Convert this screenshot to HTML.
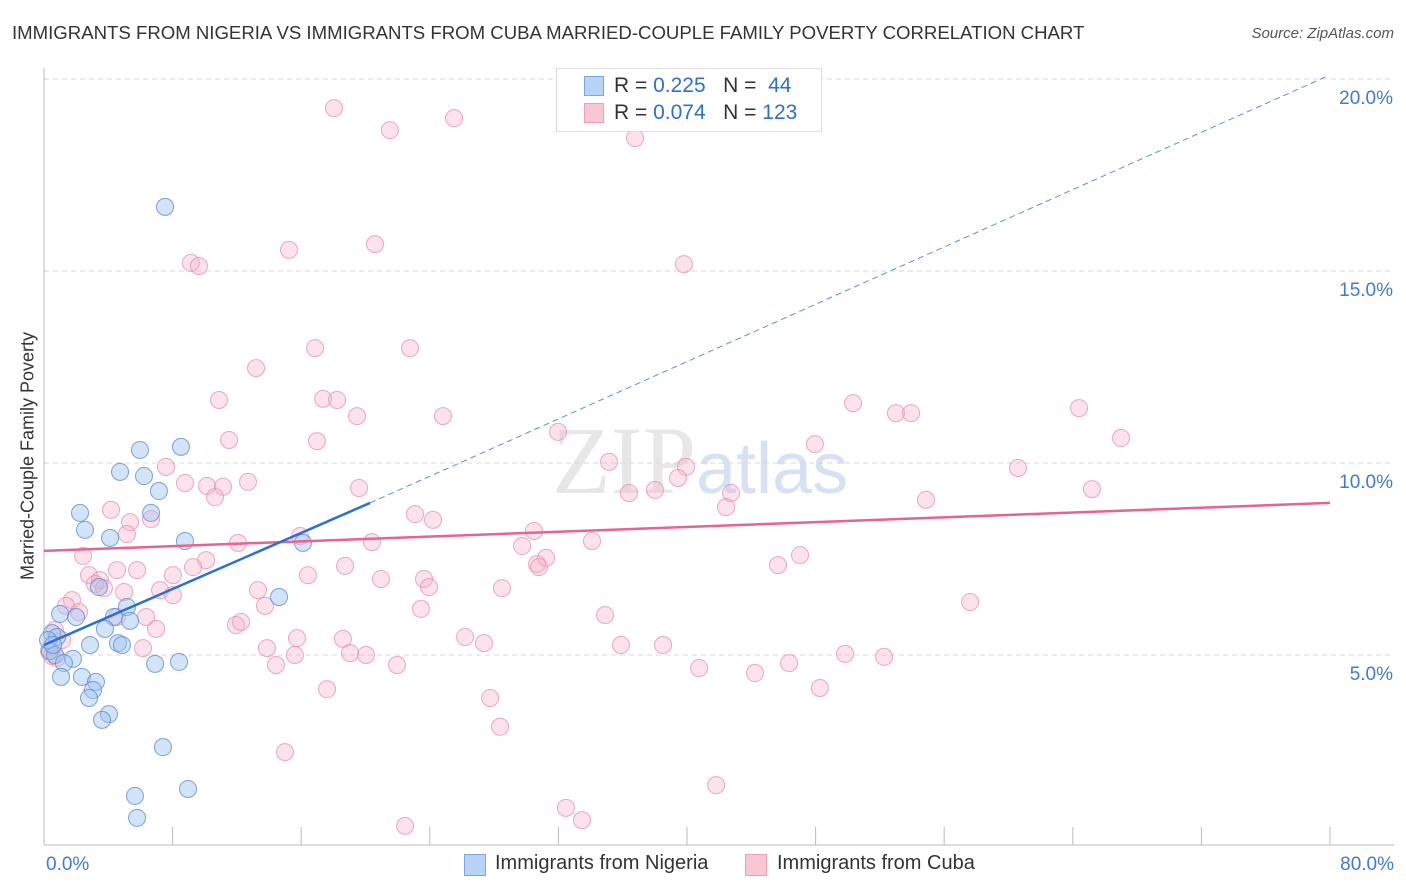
<!DOCTYPE html>
<html><head><meta charset="utf-8"><style>
body{margin:0;background:#fff;font-family:"Liberation Sans",sans-serif}
#wrap{position:relative;width:1406px;height:892px;overflow:hidden}
.t{position:absolute;white-space:nowrap}
</style></head><body>
<div id="wrap">
<div class="t" style="left:12px;top:22px;font-size:18.6px;color:#333">IMMIGRANTS FROM NIGERIA VS IMMIGRANTS FROM CUBA MARRIED-COUPLE FAMILY POVERTY CORRELATION CHART</div>
<div class="t" style="right:12px;top:25px;font-size:15px;color:#555;font-style:italic">Source: ZipAtlas.com</div>
<div class="t" style="left:28px;top:456px;font-size:18px;color:#333;transform:translate(-50%,-50%) rotate(-90deg)">Married-Couple Family Poverty</div>
<div class="t" style="left:552px;top:405px;font-size:96px;color:rgba(160,160,160,0.25);font-family:'Liberation Serif',serif">ZIP<span style="font-family:'Liberation Sans',sans-serif;color:rgba(120,160,220,0.3);font-size:72px">atlas</span></div>
<svg id="svg" width="1406" height="892" style="position:absolute;left:0;top:0"></svg>
<div style="position:absolute;left:556px;top:68px;width:264px;height:62px;border:1px solid #ddd;background:#fff"></div>
<div style="position:absolute;left:584px;top:76px;width:18px;height:18px;background:#b8d3f5;border:1px solid #7aa8e6"></div>
<div class="t" style="left:614px;top:74px;font-size:21px;color:#333">R = <span style="color:#2f6fd0">0.225</span>&nbsp;&nbsp;&nbsp;N = &nbsp;<span style="color:#2f6fd0">44</span></div>
<div style="position:absolute;left:584px;top:103px;width:18px;height:18px;background:#f9c6d4;border:1px solid #eea0b6"></div>
<div class="t" style="left:614px;top:101px;font-size:21px;color:#333">R = <span style="color:#2f6fd0">0.074</span>&nbsp;&nbsp;&nbsp;N = <span style="color:#2f6fd0">123</span></div>
<div style="position:absolute;left:464px;top:854px;width:20px;height:20px;background:#b8d3f5;border:1px solid #7aa8e6"></div>
<div class="t" style="left:495px;top:852px;font-size:20px;color:#333">Immigrants from Nigeria</div>
<div style="position:absolute;left:745px;top:854px;width:20px;height:20px;background:#f9c6d4;border:1px solid #eea0b6"></div>
<div class="t" style="left:777px;top:852px;font-size:20px;color:#333">Immigrants from Cuba</div>
</div>
<script>
const yTicks=[5,10,15,20];
const yTickLabels=["5.0%","10.0%","15.0%","20.0%"];
const xTickLabels=["0.0%","80.0%"];
const nigX=[7.53,5.97,8.52,4.73,6.22,7.15,2.24,6.66,2.55,4.11,8.77,16.11,3.42,14.62,5.16,1.00,4.35,1.99,5.35,3.79,0.50,0.81,4.60,2.86,4.85,0.37,0.68,1.80,1.24,6.91,8.40,1.06,2.36,3.23,3.05,2.80,4.04,3.61,7.40,5.66,8.96,5.79,0.25,0.56];
const nigY=[16.67,10.34,10.42,9.77,9.66,9.27,8.70,8.70,8.26,8.05,7.97,7.92,6.77,6.51,6.25,6.07,5.99,5.99,5.89,5.68,5.57,5.47,5.31,5.26,5.26,5.10,5.00,4.90,4.79,4.77,4.82,4.43,4.43,4.30,4.09,3.88,3.46,3.31,2.60,1.33,1.51,0.76,5.39,5.26];
const cubX=[18.04,21.52,25.51,36.77,15.24,20.59,9.14,9.64,39.81,13.19,16.86,22.77,10.89,17.36,18.23,19.47,24.82,11.51,16.98,31.98,47.96,50.33,53.00,53.94,64.39,67.00,35.15,39.94,7.59,12.69,8.77,10.14,11.14,10.64,19.60,36.39,38.01,39.44,42.74,42.43,60.59,65.19,54.87,4.17,5.35,6.66,5.16,23.08,24.20,30.48,29.74,34.09,12.07,20.40,15.93,2.43,10.08,8.02,9.27,4.54,5.79,18.73,30.67,31.23,30.79,47.03,45.66,2.80,3.48,3.17,3.73,4.98,7.22,8.02,13.31,16.42,20.96,23.64,23.95,28.49,1.74,1.37,2.18,4.54,6.35,13.75,23.45,34.90,57.61,6.97,11.94,12.26,0.68,1.12,0.81,0.50,0.31,6.16,13.87,15.74,15.61,18.60,19.04,20.03,26.19,27.37,35.89,38.51,14.43,21.96,40.75,44.23,46.35,49.83,52.26,17.61,27.75,48.27,28.37,14.99,41.81,32.47,33.47,22.46];
const cubY=[19.24,18.67,18.98,18.46,15.55,15.70,15.21,15.13,15.18,12.47,12.99,12.99,11.64,11.67,11.64,11.22,11.22,10.60,10.57,10.81,10.49,11.56,11.30,11.30,11.43,10.65,10.03,9.90,9.90,9.51,9.48,9.40,9.38,9.11,9.35,9.22,9.30,9.61,9.22,8.85,9.87,9.32,9.04,8.78,8.46,8.54,8.15,8.67,8.52,8.23,7.84,7.97,7.92,7.94,8.10,7.58,7.47,7.08,7.29,7.21,7.21,7.32,7.37,7.53,7.29,7.60,7.34,7.08,6.95,6.85,6.74,6.64,6.69,6.56,6.69,7.08,6.98,6.98,6.77,6.74,6.43,6.28,6.12,5.99,5.99,6.28,6.20,6.04,6.38,5.68,5.78,5.86,5.65,5.39,4.92,4.97,5.10,5.18,5.18,5.44,5.00,5.42,5.05,5.00,5.47,5.31,5.26,5.26,4.74,4.74,4.66,4.53,4.79,5.03,4.95,4.11,3.88,4.14,3.13,2.47,1.61,1.02,0.70,0.55];
const nigTrend=[0,5.26,20.28,8.96,79.7,20.05];
const cubTrend=[0,7.71,80,8.96];
const X=v=>44+v/80*1286, Y=v=>847-v*38.4;
const svg=document.getElementById('svg'),NS='http://www.w3.org/2000/svg';
function mk(t,a){const e=document.createElementNS(NS,t);for(const k in a)e.setAttribute(k,a[k]);svg.appendChild(e);return e;}
yTicks.forEach((v,i)=>{
 const g=mk('line',{x1:44,x2:1394,y1:Y(v),y2:Y(v),stroke:'#d8d8d8','stroke-dasharray':'5,4'});
 
 
 const t=mk('text',{x:1393,y:Y(v)+25,'text-anchor':'end','font-size':19,fill:'#3f7bd6','font-family':'Liberation Sans, sans-serif'});
 t.textContent=yTickLabels[i];
 
 
});
let ax=mk('line',{x1:44,x2:44,y1:68,y2:845,stroke:'#bbb'});


ax=mk('line',{x1:44,x2:1394,y1:845,y2:845,stroke:'#bbb'});


for(let i=1;i<=10;i++){const v=i*8;const tk=mk('line',{x1:X(v),x2:X(v),y1:827,y2:845,stroke:'#bbb'});
 
 }
[[0,'start',46],[80,'end',1394]].forEach((d,i)=>{const t=mk('text',{x:d[2],y:870,'text-anchor':d[1],'font-size':19,fill:'#3f7bd6','font-family':'Liberation Sans, sans-serif'});t.textContent=xTickLabels[i];
 
 });
cubX.forEach((x,i)=>{const c=mk('circle',{cx:X(x),cy:Y(cubY[i]),r:8.5,fill:'rgba(246,176,198,0.35)',stroke:'rgba(232,140,170,0.75)','stroke-width':1});
 
 });
nigX.forEach((x,i)=>{const c=mk('circle',{cx:X(x),cy:Y(nigY[i]),r:8.5,fill:'rgba(160,196,240,0.45)',stroke:'rgba(90,140,215,0.8)','stroke-width':1});
 
 });
let l=mk('line',{x1:X(cubTrend[0]),y1:Y(cubTrend[1]),x2:X(cubTrend[2]),y2:Y(cubTrend[3]),stroke:'#e8648f','stroke-width':2.5});


l=mk('line',{x1:X(nigTrend[0]),y1:Y(nigTrend[1]),x2:X(nigTrend[2]),y2:Y(nigTrend[3]),stroke:'#2a6fd6','stroke-width':2.5});


l=mk('line',{x1:X(nigTrend[2]),y1:Y(nigTrend[3]),x2:X(nigTrend[4]),y2:Y(nigTrend[5]),stroke:'#5a90dd','stroke-width':1,'stroke-dasharray':'6,4'});


</script>
</body></html>
